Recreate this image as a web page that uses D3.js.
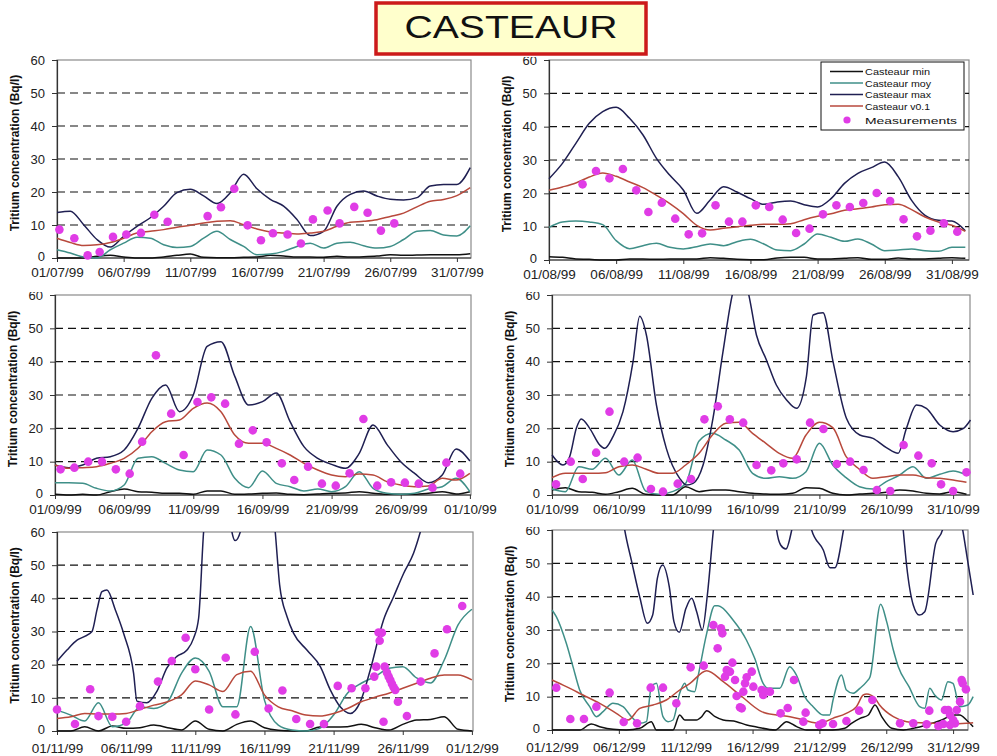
<!DOCTYPE html>
<html>
<head>
<meta charset="utf-8">
<script src="https://cdn.jsdelivr.net/npm/d3@7"></script>
<style>
  body { margin: 0; background: #fff; }
  svg { display: block; }
  text { font-family: Arial, "Liberation Sans", sans-serif; }
</style>
</head>
<body>
<svg id="chart" width="997" height="756"></svg>
<script>
// ---- data (day offset from the 1st of the month, Bq/l) ----
const tickDays = [0, 5, 10, 15, 20, 25, 30];
const julTicks = ["01/07/99", "06/07/99", "11/07/99", "16/07/99", "21/07/99", "26/07/99", "31/07/99"];
const augTicks = ["01/08/99", "06/08/99", "11/08/99", "16/08/99", "21/08/99", "26/08/99", "31/08/99"];
const sepTicks = ["01/09/99", "06/09/99", "11/09/99", "16/09/99", "21/09/99", "26/09/99", "01/10/99"];
const octTicks = ["01/10/99", "06/10/99", "11/10/99", "16/10/99", "21/10/99", "26/10/99", "31/10/99"];
const novTicks = ["01/11/99", "06/11/99", "11/11/99", "16/11/99", "21/11/99", "26/11/99", "01/12/99"];
const decTicks = ["01/12/99", "06/12/99", "11/12/99", "16/12/99", "21/12/99", "26/12/99", "31/12/99"];
const yTicks = [0, 10, 20, 30, 40, 50, 60];

// July
const julMin = [0, 0, 0, 0.5, 0.8, 0.3, 0, 0, 0.3, 0.8, 1.2, 0.2, 0.1, 0.1, 0.2, 0.3, 0.8, 0.6, 0.3, 0.3, 0.2, 0.5, 0.3, 0.4, 0.6, 1, 0.8, 0.9, 1, 1, 1, 1.3];
const julMoy = [2.5, 1.5, 0.3, 0, 2.5, 4.5, 6.3, 6, 4, 3.2, 3.5, 6, 8.1, 5.6, 3.5, 1, 1.2, 2, 3.5, 4.5, 3, 4.5, 4.8, 3.7, 3, 3.5, 5.6, 8.1, 8.3, 7, 6.7, 9.8];
const julMax = [13.8, 14.2, 10.1, 5.6, 3.3, 6.6, 9.6, 12.2, 15.7, 19.8, 20.8, 18.8, 16.5, 19.8, 25.4, 21, 17.8, 15.7, 11.7, 6.8, 8.1, 15.7, 19.3, 20.3, 18.8, 17.8, 17.6, 18.3, 21.8, 22.3, 22.3, 27.4];
const julV01 = [6, 4.7, 3.8, 4, 4.7, 6, 7.6, 8.1, 8.6, 9.3, 9.9, 10.6, 11.1, 11.3, 10.1, 8.8, 7.9, 7.6, 7.3, 7.6, 8.1, 9.6, 10.8, 11.1, 11.6, 12.6, 13.6, 15.5, 17.2, 17.7, 18.9, 21.3];
const julMeasDays = [0.18, 1.3, 2.3, 3.2, 4.2, 5.2, 6.3, 7.3, 8.3, 11.3, 12.3, 13.3, 14.3, 15.3, 16.2, 17.3, 18.3, 19.2, 20.3, 21.2, 22.3, 23.3, 24.3, 25.3];
const julMeas = [8.6, 6, 0.8, 1.8, 6.4, 7.1, 7.6, 13.1, 11, 12.7, 15.4, 21, 9.9, 5.4, 7.5, 7.1, 4.4, 11.7, 14.4, 10.5, 15.5, 13.7, 8.3, 10.5];

// August
const augMin = [1, 0.8, 0.3, 0.2, 0, 0, 0.3, 0.3, 0.2, 0.3, 0.3, 0.3, 0.7, 0.5, 0.2, 0.1, 0.1, 0.6, 0.8, 0.8, 0.3, 0.3, 0.5, 0.7, 0.2, 0.2, 0.6, 0.3, 0.3, 0.5, 0.7, 0.5];
const augMoy = [9.8, 11.4, 11.7, 11.4, 10.6, 5.8, 3.4, 4.3, 5, 3.8, 3.3, 4, 4.8, 4.3, 5.5, 6.2, 4.8, 3, 2.8, 4.8, 7.8, 6.8, 5.6, 6.3, 4.8, 2.8, 3, 3.3, 2.8, 2.6, 3.8, 3.8];
const augMax = [24.4, 29, 35, 41, 44.5, 45.8, 42.5, 37.5, 30.5, 25.4, 21, 14, 18, 22, 20.4, 18.4, 16.7, 17.4, 17.7, 16.6, 15.9, 18.4, 23, 26, 27.7, 29.4, 25, 17.9, 13.4, 11.9, 11.7, 8.8];
const augV01 = [20.9, 21.9, 23.1, 24.9, 26.1, 25.1, 23.4, 21.7, 19.4, 16.9, 13.9, 10.4, 9, 9.5, 10, 10.4, 10.7, 10.7, 10.9, 12.1, 13.1, 13.9, 14.9, 15.4, 15.9, 16.6, 16.7, 15.1, 12.9, 11.4, 10.4, 8.6];
const augMeasDays = [2.5, 3.5, 4.5, 5.5, 6.5, 7.4, 8.4, 9.4, 10.4, 11.4, 12.4, 13.4, 14.4, 15.4, 16.4, 17.4, 18.4, 19.4, 20.4, 21.4, 22.4, 23.4, 24.4, 25.4, 26.4, 27.4, 28.4, 29.4, 30.4];
const augMeas = [22.7, 26.7, 24.5, 27.3, 20.9, 14.4, 17.2, 12.4, 7.7, 8, 16.4, 11.5, 11.5, 16.4, 15.9, 12.1, 8.1, 9.4, 13.7, 16.4, 15.9, 17.1, 20.1, 17.7, 12.2, 7.1, 8.8, 11, 8.5];

// September
const sepMin = [0.2, 0, 0.2, 0, 1, 1.8, 1, 0.8, 0.5, 0.5, 0.2, 1.2, 1.2, 0.2, 0.3, 0.5, 0.6, 0.2, 0.1, 0.3, 0.5, 0.6, 1, 0.5, 0.2, 0.2, 0.2, 0.5, 1, 0.3, 1];
const sepMoy = [3.7, 3.7, 3.5, 2, 1.2, 3, 11, 11.5, 9.5, 7.5, 7, 13.5, 12, 5, 2.2, 7.2, 3.5, 2.5, 1.2, 1.8, 1, 2.5, 7, 2, 0.5, 0.2, 0.5, 1.8, 2.5, 5, 1];
const sepMax = [9, 8.2, 9, 11, 11.5, 13.5, 20, 29, 33, 25, 30, 44.6, 46, 35.6, 27, 28, 30.6, 22, 14.5, 11, 9.2, 8, 12.5, 21, 15.2, 10, 6.5, 3.7, 6, 13.8, 10.2];
const sepV01 = [9, 8, 8.2, 8.5, 9.5, 11, 14, 19, 22, 22.5, 26, 27.6, 25, 18, 15.5, 15.5, 14, 12, 9.5, 7.5, 6, 5.5, 6.3, 6, 4, 3, 2.5, 2.7, 5, 4.5, 6.5];
const sepMeasDays = [0.4, 1.4, 2.4, 3.4, 4.4, 5.4, 6.3, 7.3, 8.4, 9.3, 10.3, 11.3, 12.3, 13.3, 14.3, 15.3, 16.4, 17.3, 18.3, 19.3, 20.3, 21.3, 22.3, 23.3, 24.3, 25.3, 26.3, 27.3, 28.3, 29.3];
const sepMeas = [7.7, 8.2, 10, 10, 7.7, 6.4, 16, 41.9, 24.4, 12, 27.9, 29.3, 27.4, 15.4, 19.4, 15.8, 9.5, 4.5, 8.5, 3.4, 2.8, 6.5, 22.8, 2.8, 3.8, 3.7, 3.4, 2.2, 9.7, 6.4];

// October
const octMin = [1.5, 2.2, 1, 0.8, 0.2, 1, 2, 0.2, 0, 0, 2.5, 1, 1.5, 1.5, 1, 0.5, 0.3, 0.2, 0.5, 2.2, 2, 0.5, 0, 0.3, 0.5, 0.8, 1.5, 1.2, 0.5, 0.3, 1, 0.2];
const octMoy = [1.8, 1, 8.5, 7.7, 11, 6, 10.5, 1.2, 0.2, 1, 3.5, 16.2, 18.5, 16.5, 13.5, 6.5, 5, 5.5, 5, 7, 15.5, 9, 5.2, 2.5, 1.8, 4, 6, 8.5, 5, 6.2, 7.2, 6];
const octMaxDays = [0, 0.82, 1.32, 1.82, 2.19, 2.82, 3.57, 3.94, 4.56, 5.31, 6.06, 6.56, 7.06, 7.81, 8.55, 9.55, 10.05, 10.55, 11.3, 12.04, 12.79, 13.54, 14.1, 14.66, 15.29, 16.03, 16.78, 17.53, 18.28, 19.03, 19.53, 20.27, 21.02, 22.02, 23.02, 24.01, 25.01, 25.89, 26.51, 27.26, 28, 29, 30, 30.75, 31.3];
const octMax = [12, 9, 11.5, 20, 22.8, 20, 15, 14, 17.5, 25, 40, 53.6, 48, 27, 14, 5, 3, 3.5, 9, 23, 43, 61, 66, 61, 48, 40.6, 33, 28.6, 26, 35.6, 54, 54.7, 40, 23, 18, 17, 14.2, 12.5, 20, 27, 26, 21, 19, 19.9, 22.5];
const octV01 = [5.2, 6.5, 6.5, 6.5, 6.7, 8.5, 9, 7.8, 6.5, 6.5, 9, 12.5, 18, 21.5, 21.8, 18.5, 15.5, 12.5, 11, 18, 21.8, 20.2, 11.5, 7.7, 5, 5.5, 6, 6, 5.2, 5, 4.5, 3.8];
const octMeasDays = [0.3, 1.4, 2.3, 3.3, 4.3, 5.4, 6.4, 7.4, 8.3, 9.4, 10.4, 11.4, 12.4, 13.3, 14.3, 15.3, 16.4, 17.3, 18.3, 19.3, 20.3, 21.3, 22.3, 23.3, 24.3, 25.3, 26.3, 27.4, 28.4, 29.1, 30, 31];
const octMeas = [3.2, 10, 4.8, 12.7, 25, 10, 11.2, 1.8, 1, 3.4, 4.8, 22.7, 26.6, 22.7, 21.7, 9, 7.4, 9.5, 10.7, 21.7, 19.8, 9.3, 10, 7.5, 1.5, 1.2, 15, 11.8, 9.5, 3.2, 1.2, 6.8];

// November
const novMin = [0, 0, 1.3, 0, 1.5, 0.8, 1, 1.8, 1, 0.3, 3, 0.5, 0, 2, 3, 1, 0.2, 0, 0, 1.2, 1.2, 1.3, 2, 1, 0.3, 2, 3.3, 3.5, 4.3, 0.5, 0];
const novMoy = [6.3, 4.8, 3, 8.5, 1.3, 2.3, 7.3, 6.8, 8.8, 17.4, 22, 18, 7.3, 7.3, 31.5, 9.3, 1.8, 0.3, 0, 0.8, 4.8, 11.4, 14.4, 16.4, 18.9, 19.4, 16, 14.5, 21.4, 32, 36.7];
const novMaxDays = [0, 0.72, 1.45, 1.93, 2.53, 2.89, 3.25, 3.61, 4.22, 4.82, 5.54, 5.78, 6.5, 7.23, 7.95, 8.67, 9.4, 9.88, 10.24, 10.6, 11, 12.4, 12.65, 12.89, 13.25, 13.6, 15.4, 15.78, 16.1, 16.63, 17.1, 18.07, 19.04, 19.76, 20.48, 21.2, 21.93, 22.65, 23.61, 24.34, 25.06, 25.78, 26.27, 27, 30];
const novMax = [21, 24.4, 27.4, 28.4, 30, 36.5, 42, 42.5, 36.5, 29.4, 17.4, 9, 8.5, 12, 19, 22.5, 24.4, 28, 34, 60, 75, 75, 60, 57.4, 60, 75, 75, 60, 44, 34.5, 29.5, 24.4, 19.4, 12.4, 7.3, 5.3, 8.8, 18.4, 33.5, 40.5, 47.5, 53.6, 60, 72, 85];
const novV01 = [3.8, 4.3, 5.3, 5.1, 5.1, 5.3, 6.5, 7.8, 8.8, 10.9, 15.1, 13.9, 11.9, 17, 18, 10.9, 7.3, 6.1, 4.8, 4.5, 5.3, 6.8, 8.8, 10.2, 11.4, 12.9, 14.4, 15.9, 16.9, 16.9, 15.4];
const novMeasDays = [0, 1.3, 2.4, 3, 4, 5, 6, 7.3, 8.3, 9.3, 10, 11, 12.2, 12.9, 14.3, 15.3, 16.3, 17.3, 18.3, 19.3, 20.3, 21.3, 22.3, 22.94, 23.08, 23.25, 23.33, 23.49, 23.61, 23.69, 23.86, 23.98, 24.1, 24.22, 24.34, 24.46, 24.65, 25.3, 26.3, 27.3, 28.2, 29.3];
const novMeas = [6.5, 2.1, 12.6, 4.5, 4.3, 2.8, 7.5, 14.9, 21.1, 28.1, 18.6, 6.5, 22.1, 5, 23.9, 6.8, 12.2, 3.6, 2.1, 2.1, 13.6, 12.9, 12.9, 16.4, 19.4, 29.7, 27.2, 29.6, 2.8, 19.4, 17.6, 16.4, 15.4, 14.2, 13.2, 12.4, 8.8, 4.5, 14.9, 23.4, 30.7, 37.7];

// December
const decMinDays = [0, 2.07, 2.94, 3.57, 4.56, 5.56, 6.56, 7.43, 7.8, 9.05, 9.55, 9.93, 10.8, 11.2, 11.57, 12.2, 12.8, 13.8, 14.56, 15.3, 16.7, 17.55, 18.3, 19.05, 21, 21.9, 22.4, 23.04, 23.66, 24.16, 24.66, 25.41, 26.28, 27.02, 28.02, 29.15, 30.01, 30.5, 31, 31.5];
const decMin = [0, 0, 1.8, 1, 0.2, 0, 0.5, 2.5, 0, 0, 4.5, 3, 3, 4, 5.8, 4, 3, 2.5, 1.5, 0.9, 0, 2.5, 1, 0, 0, 0.5, 2, 3.5, 4.5, 7.5, 4, 0.5, 0, 0.5, 1.5, 3, 4.5, 4.5, 3, 1];
const decMoyDays = [0, 0.32, 1.07, 1.57, 2.07, 2.82, 3.32, 3.82, 4.56, 5.31, 5.94, 6.56, 7.06, 7.43, 7.81, 8.3, 8.68, 9.05, 9.55, 9.93, 10.17, 10.67, 10.92, 11.55, 12.17, 12.42, 13.54, 14.54, 15.16, 15.79, 16.16, 17.03, 17.78, 18.28, 18.9, 19.53, 20.27, 20.77, 21.02, 21.65, 22.02, 22.52, 23.02, 23.54, 23.79, 24.58, 25.03, 25.53, 25.9, 26.7, 27.5, 27.88, 28.25, 28.62, 29.12, 29.61, 29.99, 30.49, 31.1, 31.5];
const decMoy = [36, 34, 26, 19, 12, 7, 4, 5.5, 8, 7, 4, 2, 2.5, 13, 14, 4, 2.5, 3, 11, 14, 12, 11.5, 16, 28.6, 37.3, 37.3, 33, 27, 21.5, 14, 12.5, 12.5, 19, 16.5, 10, 7, 4.5, 4.5, 9, 16.5, 12, 11, 12.5, 14.5, 16, 37.7, 32.5, 24, 19, 13, 7, 6.5, 12.5, 10.5, 9, 14.5, 14, 7, 7.5, 10];
const decMaxDays = [0, 3, 5.2, 5.44, 5.96, 6.58, 7.13, 7.53, 7.88, 8.28, 8.77, 9.12, 9.52, 10.02, 10.45, 10.82, 11.24, 11.62, 12.07, 12.4, 16.5, 16.8, 17.1, 17.5, 17.93, 18.3, 19.1, 19.42, 20.29, 20.79, 21.16, 21.8, 22.2, 26, 26.27, 26.52, 27.02, 27.47, 27.88, 28.7, 29.2, 29.5, 30.4, 30.72, 31.06, 31.5];
const decMax = [75, 80, 66, 60, 50.5, 39.6, 32, 34.5, 45.5, 49.5, 43, 32.5, 29.3, 36.5, 39.5, 35.5, 30, 40.5, 60, 72, 72, 60, 55.5, 54.3, 60, 68, 68, 60, 54, 48.7, 48.7, 60, 70, 70, 60, 49.5, 37.5, 34.5, 35.5, 56, 60, 66, 66, 60, 51.5, 40.5];
const decV01Days = [0, 1.07, 2.32, 3.57, 4.81, 5.69, 6.56, 7.56, 8.55, 9.55, 10.32, 11.57, 12.81, 14.06, 15.68, 16.8, 17.8, 18.8, 20, 21, 22, 22.77, 23.28, 23.54, 24.16, 24.5, 25.53, 26.53, 28.5, 29.75, 31, 31.5];
const decV01 = [15, 13, 10.5, 8, 5, 3, 6.5, 7.5, 9, 12, 14, 17.8, 14.5, 10.5, 5.5, 4.5, 4, 3, 2, 3.5, 5, 7, 10.5, 10.8, 9.5, 7.5, 4, 2.5, 2, 1.8, 2, 2.2];
const decMeasDays = [0.32, 1.37, 2.39, 3.32, 4.31, 5.36, 6.36, 7.38, 8.3, 9.3, 10.37, 11.35, 12.07, 12.64, 12.74, 12.39, 13.49, 13.07, 13.31, 12.94, 13.69, 14.56, 14.94, 15.06, 14.44, 14.31, 13.81, 15.68, 15.93, 16.3, 15.8, 14.06, 14.19, 17.1, 17.63, 18.1, 18.97, 18.8, 19.99, 20.24, 21.02, 22.02, 22.97, 23.96, 26.03, 27.02, 28.02, 28.22, 28.9, 29.27, 29.39, 29.64, 29.77, 30.01, 30.14, 29.77, 30.27, 30.52, 30.64, 30.96, 30.72];
const decMeas = [12.7, 3.3, 3.3, 7, 11.2, 2.4, 2, 12.7, 12.7, 8, 18.8, 19.3, 31.5, 30.5, 29, 24.5, 20.2, 18, 17.5, 16, 15, 15.8, 17.5, 13, 14, 11.5, 10.2, 12, 11.5, 11.5, 10.5, 6.8, 6.5, 5, 6.6, 15, 5.2, 2.5, 1.5, 2, 1.8, 2.7, 5.8, 9, 2, 2, 1.7, 5.8, 1.2, 1.8, 6, 6, 4.5, 3, 2, 1.5, 6, 8.5, 15, 12.2, 14];

const legendNames = ["Casteaur min", "Casteaur moy", "Casteaur max", "Casteaur v0.1", "Measurements"];

// ---- styles ----
const colors = { min: "#111111", moy: "#3f8f88", max: "#1f1f52", v01: "#b8493c", meas: "#e03ce6" };

// helper: pair day positions with values
const grid = vals => vals.map((v, i) => [i, v]);
const pairs = (days, vals) => days.map((d, i) => [d, vals[i]]);

const panels = [
  { left: 57, ppd: 13.33, right: 471, top: 60, bottom: 258, ticks: julTicks,
    min: grid(julMin), moy: grid(julMoy), max: grid(julMax), v01: grid(julV01), meas: pairs(julMeasDays, julMeas) },
  { left: 549, ppd: 13.43, right: 969, top: 60, bottom: 260, ticks: augTicks, legend: true, cut: true,
    min: grid(augMin), moy: grid(augMoy), max: grid(augMax), v01: grid(augV01), meas: pairs(augMeasDays, augMeas) },
  { left: 55, ppd: 13.83, right: 471, top: 295, bottom: 495, ticks: sepTicks, cut: true,
    min: grid(sepMin), moy: grid(sepMoy), max: grid(sepMax), v01: grid(sepV01), meas: pairs(sepMeasDays, sepMeas) },
  { left: 552, ppd: 13.37, right: 970, top: 295, bottom: 495, ticks: octTicks, cut: true,
    min: grid(octMin), moy: grid(octMoy), max: pairs(octMaxDays, octMax), v01: grid(octV01), meas: pairs(octMeasDays, octMeas) },
  { left: 57, ppd: 13.83, right: 473, top: 532, bottom: 731, ticks: novTicks, labelGap: 3,
    min: grid(novMin), moy: grid(novMoy), max: pairs(novMaxDays, novMax), v01: grid(novV01), meas: pairs(novMeasDays, novMeas) },
  { left: 552, ppd: 13.37, right: 968, top: 530, bottom: 730, ticks: decTicks, labelGap: 3, cut: true,
    min: pairs(decMinDays, decMin), moy: pairs(decMoyDays, decMoy), max: pairs(decMaxDays, decMax), v01: pairs(decV01Days, decV01), meas: pairs(decMeasDays, decMeas) }
];

const svg = d3.select("#chart");

panels.forEach((p, k) => {
  const x = d3.scaleLinear().domain([0, 31]).range([p.left, p.left + 31 * p.ppd]);
  const y = d3.scaleLinear().domain([0, 60]).range([p.bottom, p.top]);
  const g = svg.append("g");

  // frame
  g.append("rect")
    .attr("x", p.left).attr("y", p.top)
    .attr("width", p.right - p.left).attr("height", p.bottom - p.top)
    .attr("fill", "#fff").attr("stroke", "#8a8a8a").attr("stroke-width", 1.2);

  // dashed gridlines
  g.selectAll(".grid").data(yTicks.filter(v => v > 0 && v < 60)).join("line")
    .attr("x1", p.left).attr("x2", p.right)
    .attr("y1", d => y(d)).attr("y2", d => y(d))
    .attr("stroke", "#111").attr("stroke-width", 1.2).attr("stroke-dasharray", "8,5");

  // y axis
  const ya = g.append("g").attr("transform", `translate(${p.left},0)`)
    .call(d3.axisLeft(y).tickValues(yTicks).tickSize(5).tickPadding(7));
  ya.select(".domain").attr("stroke", "#333").attr("stroke-width", 1.2);
  ya.selectAll(".tick line").attr("stroke", "#333");
  ya.selectAll("text").attr("font-size", 13).attr("fill", "#222")
    .attr("font-family", "Arial, 'Liberation Sans', sans-serif");
  // lift the "0" a touch so it clears the first date label
  ya.selectAll(".tick").filter(d => d === 0).select("text").attr("dy", "0.2em");

  // the pasted panels hide the top of their "60" label
  if (p.cut) {
    g.append("rect").attr("x", p.left - 30).attr("y", p.top - 9)
      .attr("width", 22).attr("height", 6).attr("fill", "#fff");
  }

  // x axis
  const xa = g.append("g").attr("transform", `translate(0,${p.bottom})`)
    .call(d3.axisBottom(x).tickValues(tickDays).tickSize(4)
      .tickPadding(5 + (p.labelGap || 0))
      .tickFormat((d, i) => p.ticks[i]));
  xa.select(".domain").remove();
  xa.selectAll(".tick line").attr("stroke", "#333");
  xa.selectAll("text").attr("font-size", 13.5).attr("fill", "#222")
    .attr("font-family", "Arial, 'Liberation Sans', sans-serif");
  g.append("line").attr("x1", p.left).attr("x2", p.right)
    .attr("y1", p.bottom).attr("y2", p.bottom)
    .attr("stroke", "#333").attr("stroke-width", 1.2);

  // y title
  g.append("text")
    .attr("transform", `translate(${p.left - 38},${(p.top + p.bottom) / 2 - 6}) rotate(-90)`)
    .attr("text-anchor", "middle")
    .attr("font-size", 12).attr("font-weight", "bold").attr("fill", "#111")
    .text("Tritium concentration (Bq/l)");

  // series, clipped at the top of the frame
  const cid = "clip" + k;
  svg.append("clipPath").attr("id", cid).append("rect")
    .attr("x", p.left - 5).attr("y", p.top)
    .attr("width", p.right - p.left + 15).attr("height", p.bottom - p.top + 5);
  const plot = g.append("g").attr("clip-path", `url(#${cid})`);
  const line = d3.line().x(d => x(d[0])).y(d => y(d[1])).curve(d3.curveMonotoneX);

  ["min", "moy", "max", "v01"].forEach(key => {
    plot.append("path").datum(p[key])
      .attr("d", line)
      .attr("fill", "none")
      .attr("stroke", colors[key])
      .attr("stroke-width", 1.5);
  });

  plot.selectAll(".pt").data(p.meas).join("circle")
    .attr("cx", d => x(d[0])).attr("cy", d => y(d[1]))
    .attr("r", 4.3).attr("fill", colors.meas);

  // legend
  if (p.legend) {
    const lg = g.append("g");
    lg.append("rect").attr("x", 821).attr("y", 62).attr("width", 143).attr("height", 68)
      .attr("fill", "#fff").attr("stroke", "#111").attr("stroke-width", 1);
    const rows = [71.5, 83, 94.5, 106, 120];
    const keys = ["min", "moy", "max", "v01", "meas"];
    const widths = [65, 66, 66, 65, 92];
    legendNames.forEach((name, i) => {
      const ry = rows[i];
      if (keys[i] === "meas") {
        lg.append("circle").attr("cx", 847).attr("cy", ry).attr("r", 3.6).attr("fill", colors.meas);
      } else {
        lg.append("line").attr("x1", 830).attr("x2", 863).attr("y1", ry).attr("y2", ry)
          .attr("stroke", colors[keys[i]]).attr("stroke-width", 1.4);
      }
      lg.append("text").attr("x", 865).attr("y", ry + 3.8)
        .attr("font-size", 9.8).attr("fill", "#111")
        .attr("textLength", widths[i]).attr("lengthAdjust", "spacingAndGlyphs")
        .text(name);
    });
  }
});

// title box
svg.append("rect").attr("x", 376).attr("y", 3).attr("width", 270).attr("height", 51)
  .attr("fill", "#ffffcc").attr("stroke", "#cc1a1a").attr("stroke-width", 3.5);
svg.append("text").attr("x", 511).attr("y", 38).attr("text-anchor", "middle")
  .attr("font-size", 31).attr("fill", "#111")
  .attr("textLength", 213).attr("lengthAdjust", "spacingAndGlyphs")
  .text("CASTEAUR");
</script>
</body>
</html>
